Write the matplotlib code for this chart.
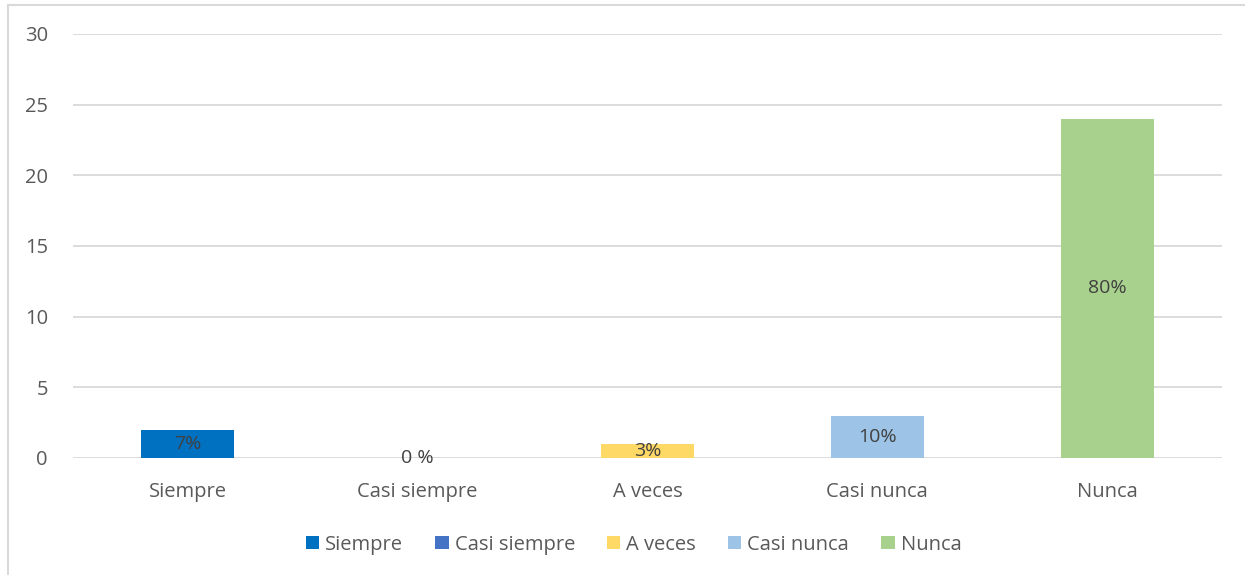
import matplotlib.pyplot as plt
from matplotlib.lines import Line2D
from matplotlib.patches import Patch

categories = ["Siempre", "Casi siempre", "A veces", "Casi nunca", "Nunca"]
counts = [2, 0, 1, 3, 24]
pct_labels = ["7%", "0 %", "3%", "10%", "80%"]
colors = ["#0070C0", "#4472C4", "#FFD966", "#9DC3E6", "#A9D18E"]

plt.rcParams["font.family"] = ["Open Sans", "DejaVu Sans"]

fig = plt.figure(figsize=(12.45, 5.75), dpi=100)
ax = fig.add_axes([0.0586, 0.2035, 0.9229, 0.7374])

x = range(len(categories))
bars = ax.bar(x, counts, width=0.405, color=colors, zorder=3)
for b, lab in zip(bars, pct_labels):
    ax.text(b.get_x() + b.get_width() / 2, b.get_height() / 2, lab,
            ha="center", va="center", fontsize=14, color="#404040", zorder=4)

ax.set_xlim(-0.5, len(categories) - 0.5)
ax.set_ylim(0, 30)
ax.set_yticks(range(0, 31, 5))
ax.set_xticks(list(x))
ax.set_xticklabels(categories)
ax.grid(axis="y", color="#D9D9D9", linewidth=1.3, zorder=0)
for s in ax.spines.values():
    s.set_visible(False)
ax.tick_params(axis="both", length=0, labelsize=14.5, colors="#595959")
ax.tick_params(axis="x", pad=17)
ax.tick_params(axis="y", pad=18)

handles = [Patch(facecolor=c, edgecolor="none") for c in colors]
fig.legend(handles, categories, loc="center", bbox_to_anchor=(0.509, 0.053),
           ncol=5, frameon=False, fontsize=14.5, handlelength=0.65,
           handleheight=0.65, handletextpad=0.3, columnspacing=1.6,
           labelcolor="#595959")

# outer chart border (left and top edges visible)
fig.add_artist(Line2D([8 / 1245, 8 / 1245], [0, 1 - 5 / 575],
                      transform=fig.transFigure, color="#D9D9D9", linewidth=1.5))
fig.add_artist(Line2D([8 / 1245, 1], [1 - 5 / 575, 1 - 5 / 575],
                      transform=fig.transFigure, color="#D9D9D9", linewidth=1.5))

plt.savefig("out.png", dpi=100)
